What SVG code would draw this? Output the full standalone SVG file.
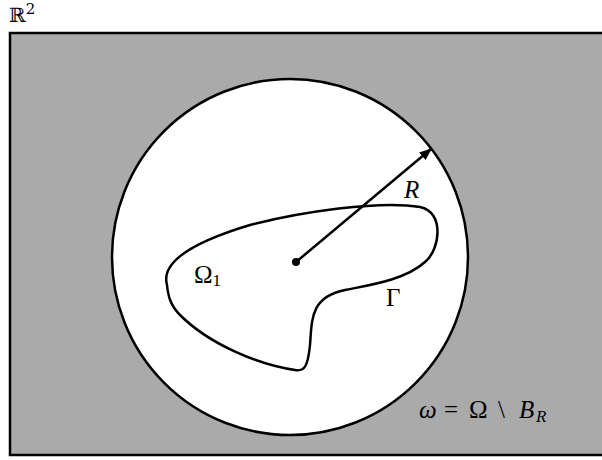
<svg xmlns="http://www.w3.org/2000/svg" width="602" height="460" viewBox="0 0 602 460">
<defs>
<style>
.lbl{font-family:"Liberation Serif","DejaVu Serif",serif;font-size:25px;fill:#000}
.it{font-style:italic}
.sub{font-size:17px}
.edge{fill:none;stroke:#000;stroke-width:2.5}
</style>
<marker id="ah" viewBox="0 0 10 10" refX="9" refY="5" markerWidth="5" markerHeight="5" orient="auto" markerUnits="strokeWidth">
<path d="M0,1 L10,5 L0,9 Z" fill="#000"/>
</marker>
</defs>
<rect width="602" height="460" fill="#fff"/>
<g id="domain">
<rect x="10" y="33" width="600" height="422" fill="#aaaaaa" stroke="#000" stroke-width="2.5"/>
<text class="lbl" x="9" y="22" style="font-family:'DejaVu Serif',serif;font-size:20px">ℝ<tspan dy="-8" style="font-size:15px">2</tspan></text>
</g>
<g id="ball">
<circle cx="290" cy="257" r="178" fill="#fff" stroke="#000" stroke-width="2.5"/>
</g>
<g id="omega1">
<path class="edge" d="M167,285 C160,260 200,240 250,225 C300,212 380,200 420,207 C445,212 440,250 425,262 C405,280 370,285 345,290 C310,297 312,320 310,345 C308,365 305,372 295,370 C260,365 210,345 180,315 C170,305 168,295 167,285 Z"/>
<text class="lbl" x="194" y="283">Ω<tspan class="sub" dy="3">1</tspan></text>
<text class="lbl" x="386" y="306">Γ</text>
</g>
<g id="connectors">
<line x1="296" y1="262" x2="431" y2="149" stroke="#000" stroke-width="2.5" marker-end="url(#ah)"/>
<circle cx="296" cy="262" r="4" fill="#000"/>
<text class="lbl it" x="404" y="198">R</text>
</g>
<g id="label-omega">
<text class="lbl" y="418"><tspan class="it" x="419">ω</tspan><tspan x="444">=</tspan><tspan x="469">Ω</tspan><tspan x="498">\</tspan><tspan class="it" x="519">B</tspan><tspan class="it sub" x="536" dy="4">R</tspan></text>
</g>
</svg>
